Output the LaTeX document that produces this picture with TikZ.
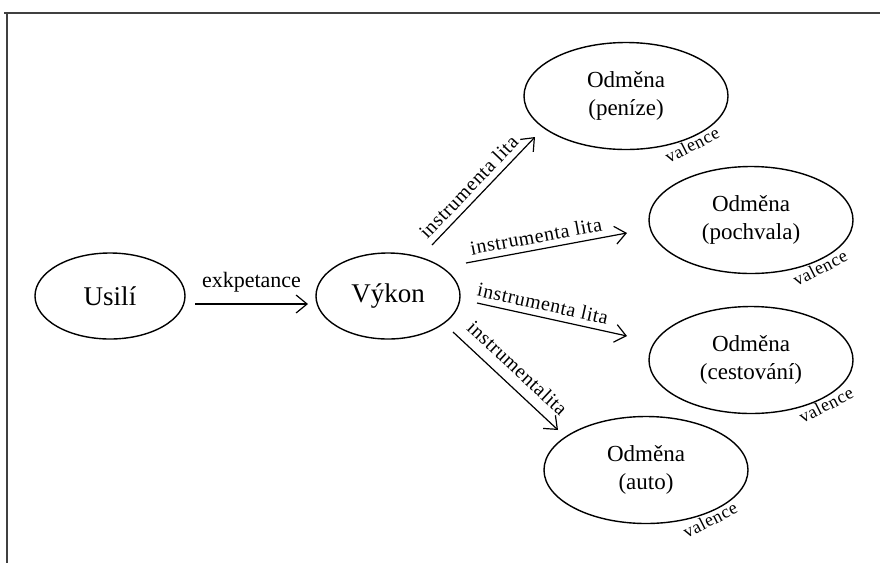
\documentclass[tikz,border=0pt]{standalone}
\usepackage{fontspec}
\setmainfont{Liberation Serif}
\newfontfamily\spacedserif[LetterSpace=3]{Liberation Serif}
\usetikzlibrary{shapes.geometric,arrows.meta}

\tikzset{
  bigoval/.style={ellipse, draw, line width=1.4pt, inner sep=0pt,
    minimum width=#1},
  reward/.style={ellipse, draw, line width=1.4pt, inner sep=0pt,
    minimum width=204pt, minimum height=107pt, align=center,
    font=\fontsize{23}{28}\selectfont},
  link/.style={line width=1.2pt, -{Straight Barb[length=11pt,width=18pt,line width=1.2pt]}},
  linklabel/.style={font=\spacedserif\fontsize{20}{22}\selectfont, inner sep=0pt, above=6pt},
  valtext/.style={font=\spacedserif\fontsize{18}{20}\selectfont, rotate=27, inner sep=0pt},
  frameline/.style={line width=2pt, draw=black!75}
}

\begin{document}
\begin{tikzpicture}[x=1pt, y=-1pt]
  \useasboundingbox (0,0) rectangle (880,563);

  % page frame (top and left edges)
  \draw[frameline] (4,13) -- (880,13);
  \draw[frameline] (7,12) -- (7,563);

  % main chain
  \node[bigoval=150pt, minimum height=86pt, font=\fontsize{27}{30}\selectfont]
    (usili) at (110,296) {Usilí};
  \node[bigoval=144pt, minimum height=86pt, font=\fontsize{27}{30}\selectfont]
    (vykon) at (388,296) {Výkon};

  % rewards
  \node[reward] (penize)   at (626,96)  {Odměna\\(peníze)};
  \node[reward] (pochvala) at (751,220) {Odměna\\(pochvala)};
  \node[reward] (cesty)    at (751,360) {Odměna\\(cestování)};
  \node[reward] (auto)     at (646,470) {Odměna\\(auto)};

  % expectancy
  \draw[link] ([shift={(85,8)}]usili.center) -- ([shift={(-80,8)}]vykon.center)
    node[midway, linklabel, above=5pt, font=\fontsize{22}{24}\selectfont] {exkpetance};

  % instrumentality links
  \draw[link] ([shift={(44,-51)}]vykon.center) -- ([shift={(-91,41)}]penize.center)
    node[pos=0.45, sloped, linklabel] {instrumenta lita};
  \draw[link] ([shift={(78,-33)}]vykon.center) -- ([shift={(-124,13)}]pochvala.center)
    node[pos=0.45, sloped, linklabel] {instrumenta lita};
  \draw[link] ([shift={(89,7)}]vykon.center) -- ([shift={(-124,-24)}]cesty.center)
    node[pos=0.42, sloped, linklabel] {instrumenta lita};
  \draw[link] ([shift={(65,36)}]vykon.center) -- ([shift={(-88,-40)}]auto.center)
    node[pos=0.5, sloped, linklabel, above=4pt] {instrumentalita};

  % valences
  \node[valtext] (valA) at ([shift={(66,49)}]penize.center)   {valence};
  \node[valtext] (valB) at ([shift={(69,48)}]pochvala.center) {valence};
  \node[valtext] (valC) at ([shift={(75,45)}]cesty.center)    {valence};
  \node[valtext] (valD) at ([shift={(64,50)}]auto.center)     {valence};
\end{tikzpicture}
\end{document}
